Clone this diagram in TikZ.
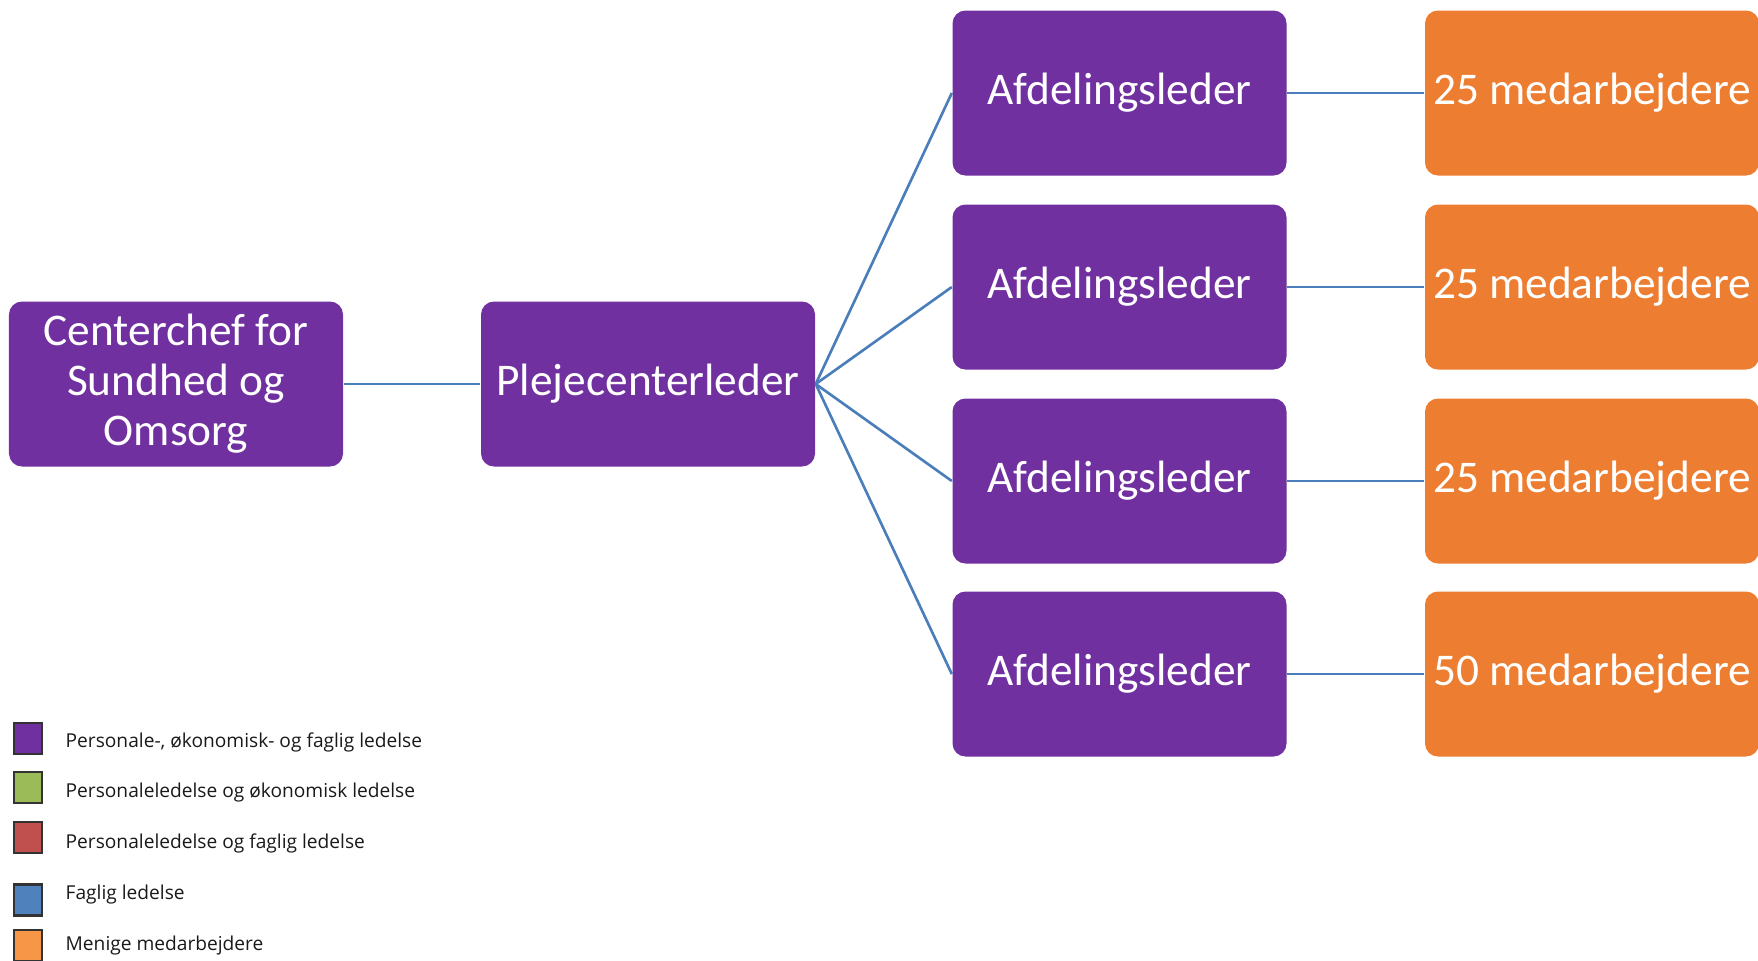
\documentclass[tikz,border=0pt]{standalone}
\usepackage{fontspec}
\setmainfont{Carlito}
\newfontfamily\legendfont{Open Sans}

\begin{document}
\begin{tikzpicture}
        % Define colours
        \definecolor{leadpurple}{RGB}{112,48,160}
        \definecolor{staffOrange}{RGB}{237,125,49}
        \definecolor{linkblue}{RGB}{74,126,187}
        \definecolor{keygreen}{RGB}{155,187,89}
        \definecolor{keyred}{RGB}{192,80,77}
        \definecolor{keyblue}{RGB}{79,129,189}
        \definecolor{keyorange}{RGB}{247,150,70}
        % Define styles
        \tikzset{
            unit/.style={rounded corners=0.13cm, minimum width=3.34cm, minimum height=1.65cm,
                inner sep=0pt, text=white, align=center, font=\fontsize{12.9}{14.2}\selectfont},
            leader/.style={unit, fill=leadpurple},
            staff/.style={unit, fill=staffOrange},
            link/.style={draw=linkblue, line width=0.75pt},
            key/.style={draw=black!80, line width=0.6pt, minimum width=0.28cm, minimum height=0.31cm, inner sep=0pt},
            keytext/.style={anchor=west, inner sep=0pt, text=black!90, font=\legendfont\fontsize{5.45}{6}\selectfont}
        }
        \useasboundingbox (0,0) rectangle (17.58,-9.60);

        % Draw the top two leaders
        \node[leader] (chef) at (1.76,-3.84) {Centerchef for\\Sundhed og\\Omsorg};
        \node[leader] (pleje) at (6.48,-3.84) {Plejecenterleder};
        \draw[link] (chef) -- (pleje);

        % Draw the departments with their staff
        \foreach \i/\y/\n in {1/-0.93/25, 2/-2.87/25, 3/-4.81/25, 4/-6.74/50} {
            \node[leader] (afd\i) at (11.195,\y) {Afdelingsleder};
            \node[staff] (staff\i) at (15.92,\y) {\n{} medarbejdere};
            \draw[link] (pleje.east) -- (afd\i.west);
            \draw[link] (afd\i) -- (staff\i);
        }

        % Draw the legend
        \node[key, fill=leadpurple] (key1) at (0.28,-7.385) {};
        \node[key, fill=keygreen] (key2) at (0.28,-7.875) {};
        \node[key, fill=keyred] (key3) at (0.28,-8.375) {};
        \node[key, fill=keyblue] (key4) at (0.28,-9.00) {};
        \node[key, fill=keyorange] (key5) at (0.28,-9.455) {};
        \node[keytext] (lab1) at (0.65,-7.42) {Personale-, økonomisk- og faglig ledelse};
        \node[keytext] (lab2) at (0.65,-7.92) {Personaleledelse og økonomisk ledelse};
        \node[keytext] (lab3) at (0.65,-8.43) {Personaleledelse og faglig ledelse};
        \node[keytext] (lab4) at (0.65,-8.94) {Faglig ledelse};
        \node[keytext] (lab5) at (0.65,-9.45) {Menige medarbejdere};
\end{tikzpicture}
\end{document}
